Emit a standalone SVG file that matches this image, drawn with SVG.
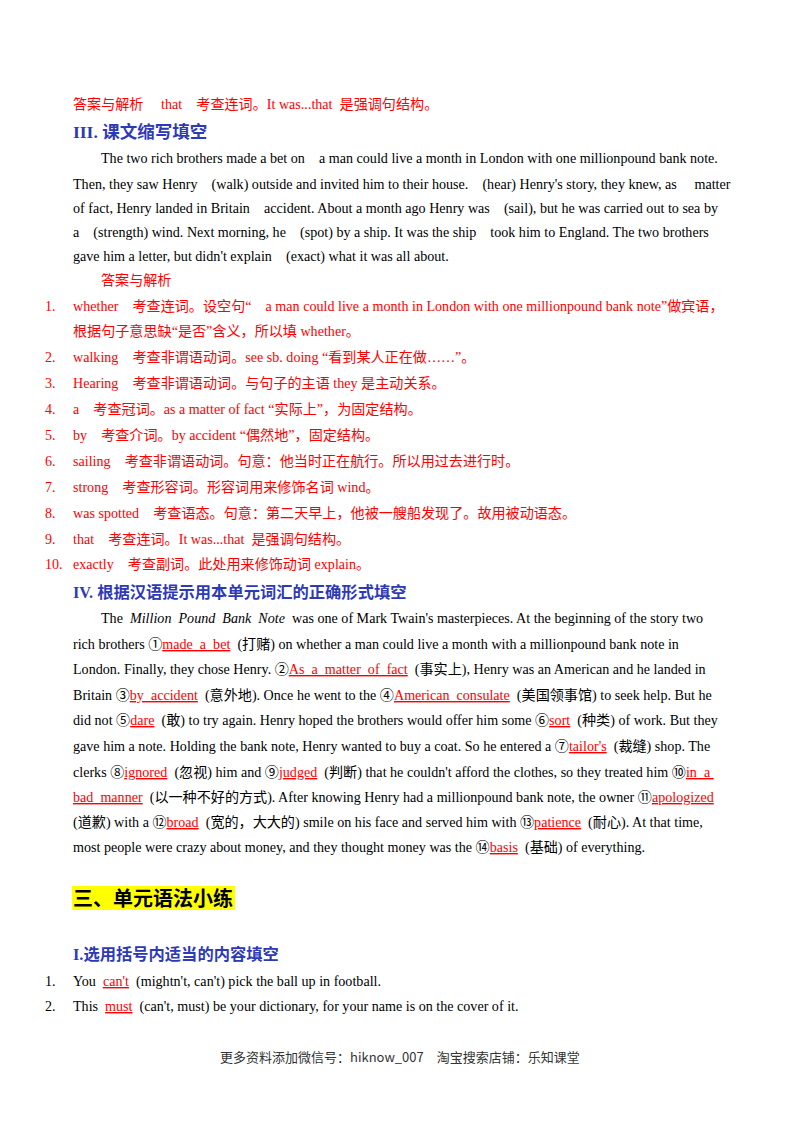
<svg xmlns="http://www.w3.org/2000/svg" width="800" height="1132" viewBox="0 0 800 1132">
<style>
text{font-family:"Liberation Serif","Noto Sans CJK SC",serif;font-size:14.1px;fill:#000;white-space:pre}
.r{fill:#ff0000}
.u{fill:#ff0000;text-decoration:underline}
.h{font-weight:bold;fill:#2e3ab5;font-size:16.3px}
.f{font-family:"Noto Sans CJK SC",sans-serif;font-size:13px;fill:#333}
</style>
<rect width="800" height="1132" fill="#fff"/>
<text x="73" y="109" class="r">答案与解析　 that　考查连词。It was...that  是强调句结构。</text>
<text x="73" y="138" class="h" style="font-size:17.5px">III. 课文缩写填空</text>
<text x="101" y="163">The two rich brothers made a bet on　a man could live a month in London with one millionpound bank note.</text>
<text x="73" y="189">Then, they saw Henry　(walk) outside and invited him to their house.　(hear) Henry's story, they knew, as　 matter</text>
<text x="73" y="213">of fact, Henry landed in Britain　accident. About a month ago Henry was　(sail), but he was carried out to sea by</text>
<text x="73" y="237">a　(strength) wind. Next morning, he　(spot) by a ship. It was the ship　took him to England. The two brothers</text>
<text x="73" y="261">gave him a letter, but didn't explain　(exact) what it was all about.</text>
<text x="101" y="285" class="r">答案与解析</text>
<g class="r">
<text x="45" y="311" class="r">1.</text><text x="73" y="311" class="r">whether　考查连词。设空句“　a man could live a month in London with one millionpound bank note”做宾语，</text>
<text x="73" y="336" class="r">根据句子意思缺“是否”含义，所以填 whether。</text>
<text x="45" y="362" class="r">2.</text><text x="73" y="362" class="r">walking　考查非谓语动词。see sb. doing “看到某人正在做……”。</text>
<text x="45" y="388" class="r">3.</text><text x="73" y="388" class="r">Hearing　考查非谓语动词。与句子的主语 they 是主动关系。</text>
<text x="45" y="414" class="r">4.</text><text x="73" y="414" class="r">a　考查冠词。as a matter of fact “实际上”，为固定结构。</text>
<text x="45" y="440" class="r">5.</text><text x="73" y="440" class="r">by　考查介词。by accident “偶然地”，固定结构。</text>
<text x="45" y="466" class="r">6.</text><text x="73" y="466" class="r">sailing　考查非谓语动词。句意：他当时正在航行。所以用过去进行时。</text>
<text x="45" y="492" class="r">7.</text><text x="73" y="492" class="r">strong　考查形容词。形容词用来修饰名词 wind。</text>
<text x="45" y="518" class="r">8.</text><text x="73" y="518" class="r">was spotted　考查语态。句意：第二天早上，他被一艘船发现了。故用被动语态。</text>
<text x="45" y="544" class="r">9.</text><text x="73" y="544" class="r">that　考查连词。It was...that  是强调句结构。</text>
<text x="45" y="569" class="r">10.</text><text x="73" y="569" class="r">exactly　考查副词。此处用来修饰动词 explain。</text>
</g>
<text x="73" y="598" class="h">IV. 根据汉语提示用本单元词汇的正确形式填空</text>
<text x="101" y="623">The  <tspan font-style="italic">Million  Pound  Bank  Note</tspan>  was one of Mark Twain's masterpieces. At the beginning of the story two</text>
<text x="73" y="649">rich brothers ①<tspan class="u">made  a  bet</tspan>  (打赌) on whether a man could live a month with a millionpound bank note in</text>
<text x="73" y="674">London. Finally, they chose Henry. ②<tspan class="u">As  a  matter  of  fact</tspan>  (事实上), Henry was an American and he landed in</text>
<text x="73" y="700">Britain ③<tspan class="u">by  accident</tspan>  (意外地). Once he went to the ④<tspan class="u">American  consulate</tspan>  (美国领事馆) to seek help. But he</text>
<text x="73" y="725">did not ⑤<tspan class="u">dare</tspan>  (敢) to try again. Henry hoped the brothers would offer him some ⑥<tspan class="u">sort</tspan>  (种类) of work. But they</text>
<text x="73" y="751">gave him a note. Holding the bank note, Henry wanted to buy a coat. So he entered a ⑦<tspan class="u">tailor's</tspan>  (裁缝) shop. The</text>
<text x="73" y="777">clerks ⑧<tspan class="u">ignored</tspan>  (忽视) him and ⑨<tspan class="u">judged</tspan>  (判断) that he couldn't afford the clothes, so they treated him ⑩<tspan class="u">in  a </tspan></text>
<text x="73" y="802"><tspan class="u">bad  manner</tspan>  (以一种不好的方式). After knowing Henry had a millionpound bank note, the owner ⑪<tspan class="u">apologized</tspan></text>
<text x="73" y="827">(道歉) with a ⑫<tspan class="u">broad</tspan>  (宽的，大大的) smile on his face and served him with ⑬<tspan class="u">patience</tspan>  (耐心). At that time,</text>
<text x="73" y="852">most people were crazy about money, and they thought money was the ⑭<tspan class="u">basis</tspan>  (基础) of everything.</text>
<rect x="72" y="886" width="163" height="24" fill="#ffff00"/>
<text x="73" y="906" style="font-family:'Noto Sans CJK SC',sans-serif;font-size:20px;font-weight:bold">三、单元语法小练</text>
<text x="73" y="960" class="h">I.选用括号内适当的内容填空</text>
<text x="45" y="986">1.</text><text x="73" y="986">You  <tspan class="u">can't</tspan>  (mightn't, can't) pick the ball up in football.</text>
<text x="45" y="1011">2.</text><text x="73" y="1011">This  <tspan class="u">must</tspan>  (can't, must) be your dictionary, for your name is on the cover of it.</text>
<text x="220" y="1062" class="f">更多资料添加微信号：hiknow_007　淘宝搜索店铺：乐知课堂</text>
</svg>
